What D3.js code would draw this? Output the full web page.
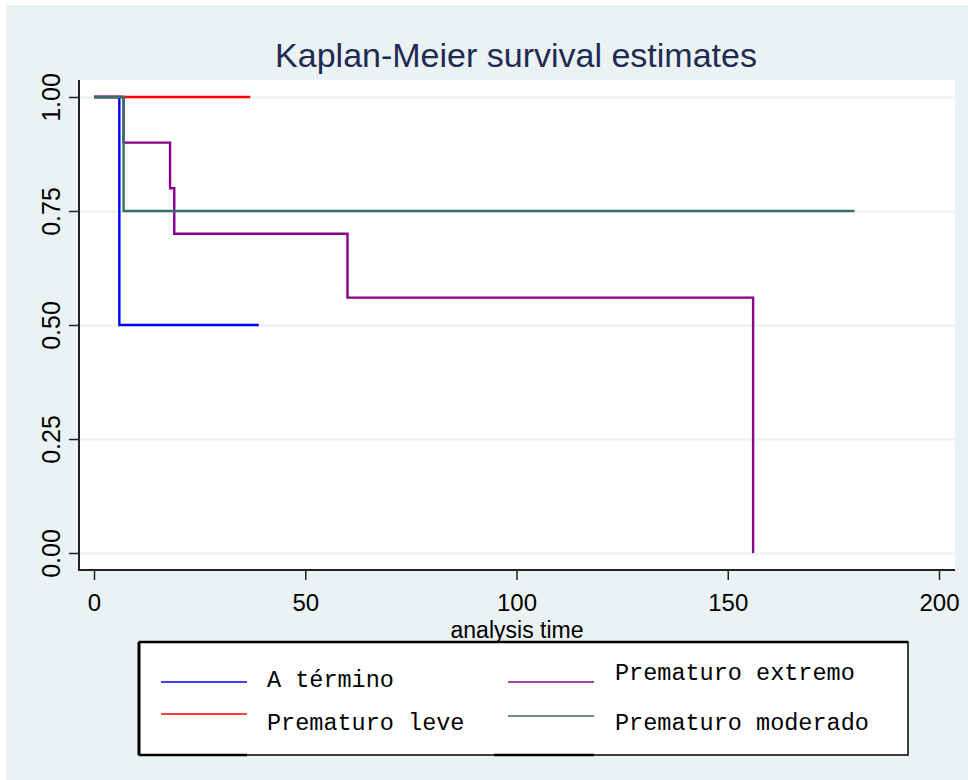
<!DOCTYPE html>
<html>
<head>
<meta charset="utf-8">
<script src="https://cdn.jsdelivr.net/npm/d3@7"></script>
<style>
  body { margin: 0; background: #fff; }
</style>
</head>
<body>
<div id="chartDiv"></div>
<script>
// survival data (step points: time, survival)
const groups = ["A término", "Prematuro extremo", "Prematuro leve", "Prematuro moderado"];
const aTermino = [[0, 1], [6, 0.5], [39, 0.5]];
const premExtremo = [[0, 1], [7, 0.9], [18, 0.8], [19, 0.7], [60, 0.56], [156, 0]];
const premLeve = [[0, 1], [37, 1]];
const premModerado = [[0, 1], [7, 0.75], [180, 0.75]];
const series = [aTermino, premExtremo, premLeve, premModerado];
const colors = ["#0000FF", "#8B008B", "#FF0000", "#33706A"];

const xTicks = [0, 50, 100, 150, 200];
const yTicks = [0, 0.25, 0.5, 0.75, 1];

var drawChart = function(){
	const W = 968, H = 780;
	const svg = d3.select('#chartDiv')
		.append('svg')
		.attr('width', W)
		.attr('height', H);

	svg.append('rect')
		.attr('x', 6).attr('y', 5)
		.attr('width', W - 6).attr('height', H - 5)
		.attr('fill', '#EAF2F3');

	// plot region
	const plot = {left: 79, top: 80, right: 955, bottom: 570};

	svg.append('rect')
		.attr('x', plot.left).attr('y', plot.top)
		.attr('width', plot.right - plot.left)
		.attr('height', plot.bottom - plot.top)
		.attr('fill', '#fff');

	//scales
	const x = d3.scaleLinear().domain([0, 200]).range([94, 939]);
	const y = d3.scaleLinear().domain([0, 1]).range([553, 97]);

	// grid
	const grid = svg.append('g')
		.attr('transform', `translate(${plot.left},0)`)
		.call(d3.axisLeft(y).tickValues(yTicks).tickSize(-(plot.right - plot.left)).tickFormat(''));
	grid.select('.domain').remove();
	grid.selectAll('line').attr('stroke', '#EAF2F3').attr('stroke-width', 2);

	// curves
	const line = d3.line()
		.x(d => x(d[0]))
		.y(d => y(d[1]))
		.curve(d3.curveStepAfter);

	svg.append('g').selectAll('path')
		.data(series)
		.enter()
		.append('path')
		.attr('d', line)
		.attr('fill', 'none')
		.attr('stroke', (d, i) => colors[i])
		.attr('stroke-width', 2.4);

	// axes
	const yAxisGroup = svg.append('g')
		.attr('transform', `translate(${plot.left},0)`)
		.call(d3.axisLeft(y).tickValues(yTicks).tickFormat(d3.format('.2f')).tickSize(10).tickSizeOuter(0));
	yAxisGroup.select('.domain').remove();
	yAxisGroup.selectAll('line').attr('stroke', '#222').attr('stroke-width', 1.5);
	yAxisGroup.selectAll('text')
		.attr('transform', 'rotate(-90)')
		.attr('x', 0).attr('y', -19).attr('dy', 0)
		.attr('text-anchor', 'middle')
		.attr('fill', '#000')
		.style('font-family', '"Liberation Sans", Arial, sans-serif')
		.style('font-size', '25px');

	const xAxisGroup = svg.append('g')
		.attr('transform', `translate(0,${plot.bottom})`)
		.call(d3.axisBottom(x).tickValues(xTicks).tickSize(10).tickSizeOuter(0));
	xAxisGroup.select('.domain').remove();
	xAxisGroup.selectAll('line').attr('stroke', '#222').attr('stroke-width', 1.5);
	xAxisGroup.selectAll('text')
		.attr('y', 41).attr('dy', 0)
		.attr('fill', '#000')
		.style('font-family', '"Liberation Sans", Arial, sans-serif')
		.style('font-size', '24px');

	svg.append('line')
		.attr('x1', plot.left).attr('x2', plot.left)
		.attr('y1', plot.top).attr('y2', plot.bottom + 1)
		.attr('stroke', '#222').attr('stroke-width', 2);
	svg.append('line')
		.attr('x1', plot.left).attr('x2', plot.right)
		.attr('y1', plot.bottom).attr('y2', plot.bottom)
		.attr('stroke', '#222').attr('stroke-width', 2);

	// titles
	svg.append('text')
		.attr('x', 516).attr('y', 67)
		.attr('text-anchor', 'middle')
		.attr('fill', '#1E2B52')
		.style('font-family', '"Liberation Sans", Arial, sans-serif')
		.style('font-size', '34px')
		.text('Kaplan-Meier survival estimates');

	svg.append('text')
		.attr('x', 517).attr('y', 638)
		.attr('text-anchor', 'middle')
		.attr('fill', '#000')
		.style('font-family', '"Liberation Sans", Arial, sans-serif')
		.style('font-size', '23px')
		.text('analysis time');

	// legend
	const lg = {left: 139, top: 642, right: 908, bottom: 755};
	svg.append('rect')
		.attr('x', lg.left).attr('y', lg.top)
		.attr('width', lg.right - lg.left).attr('height', lg.bottom - lg.top)
		.attr('fill', '#fff')
		.attr('stroke', '#000').attr('stroke-width', 1.5);
	svg.append('line')
		.attr('x1', lg.left).attr('x2', lg.left)
		.attr('y1', lg.top).attr('y2', lg.bottom)
		.attr('stroke', '#000').attr('stroke-width', 3);
	svg.append('line')
		.attr('x1', lg.left).attr('x2', lg.right)
		.attr('y1', lg.top).attr('y2', lg.top)
		.attr('stroke', '#000').attr('stroke-width', 2.5);
	[[lg.left, 247], [494, 594]].forEach(s => {
		svg.append('line')
			.attr('x1', s[0]).attr('x2', s[1])
			.attr('y1', lg.bottom).attr('y2', lg.bottom)
			.attr('stroke', '#000').attr('stroke-width', 2.5);
	});

	// legend is filled row-wise: 2 columns
	const keyX = [161, 508], labelX = [267, 615];
	const keyY = [[682, 714], [682, 716]];
	const labelY = [[687, 730], [680, 730]];
	const items = svg.append('g').selectAll('g')
		.data(groups)
		.enter()
		.append('g');
	items.append('line')
		.attr('x1', (d, i) => keyX[i % 2])
		.attr('x2', (d, i) => keyX[i % 2] + 86)
		.attr('y1', (d, i) => keyY[i % 2][Math.floor(i / 2)])
		.attr('y2', (d, i) => keyY[i % 2][Math.floor(i / 2)])
		.attr('stroke', (d, i) => colors[i])
		.attr('stroke-width', 1.5);
	items.append('text')
		.attr('x', (d, i) => labelX[i % 2])
		.attr('y', (d, i) => labelY[i % 2][Math.floor(i / 2)])
		.attr('fill', '#000')
		.style('font-family', '"Liberation Mono", "Courier New", monospace')
		.style('font-size', '23.5px')
		.text(d => d);
}

drawChart();
</script>
</body>
</html>
